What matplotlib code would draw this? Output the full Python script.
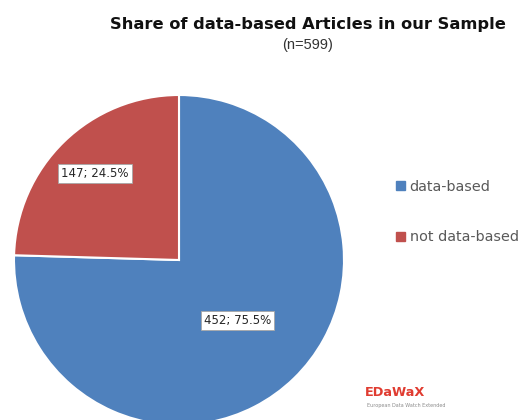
import numpy as np
import matplotlib.pyplot as plt
from matplotlib.patches import Patch

categories = ['data-based', 'not data-based']
counts = [452, 147]
shares = [75.5, 24.5]
colors = ['#4F81BD', '#C0504D']
label_dist = [0.51, 0.73]

fig = plt.figure(figsize=(5.23, 4.2), dpi=100)

# pie centre ~ (179, 260) px, radius ~165 px
cx, cy, r = 179, 260, 165
W, H = 523, 420
ax = fig.add_axes([(cx - r) / W, (H - cy - r) / H, 2 * r / W, 2 * r / H])

# blue runs clockwise from 12 o'clock, red closes the circle
wedges, _ = ax.pie(counts, colors=colors, startangle=90, counterclock=False, radius=1,
                   wedgeprops=dict(edgecolor='white', linewidth=1.5))
ax.set_xlim(-1, 1)
ax.set_ylim(-1, 1)
ax.axis('off')
for w in wedges:
    w.set_clip_on(False)

for w, n, s, d in zip(wedges, counts, shares, label_dist):
    mid = np.deg2rad((w.theta1 + w.theta2) / 2)
    ax.text(d * np.cos(mid), d * np.sin(mid), f'{n}; {s}%',
            ha='center', va='center', fontsize=8.5, color='#262626',
            bbox=dict(boxstyle='square,pad=0.25', fc='white', ec='#a6a6a6', lw=0.6))

fig.text(308 / W, 1 - 25 / H, 'Share of data-based Articles in our Sample',
         ha='center', va='center', fontsize=11.7, fontweight='bold', color='#111111')
fig.text(308 / W, 1 - 45 / H, '(n=599)', ha='center', va='center',
         fontsize=10.5, color='#333333', family='Liberation Sans')

handles = [Patch(color=c) for c in colors]
fig.legend(handles, categories, loc='center left', bbox_to_anchor=(396 / W, 1 - 212 / H),
           frameon=False, fontsize=10.4, labelcolor='#595959', labelspacing=2.55,
           handlelength=0.6, handleheight=0.6, handletextpad=0.35,
           borderpad=0, borderaxespad=0)

# logo
fig.text(365 / W, 1 - 393 / H, 'EDaWaX', ha='left', va='center', fontsize=9.3,
         color='#E03C31', fontweight='bold')
fig.text(367 / W, 1 - 406 / H, 'European Data Watch Extended', ha='left', va='center',
         fontsize=3.5, color='#8c8c8c')

fig.savefig('out.png', dpi=100)
